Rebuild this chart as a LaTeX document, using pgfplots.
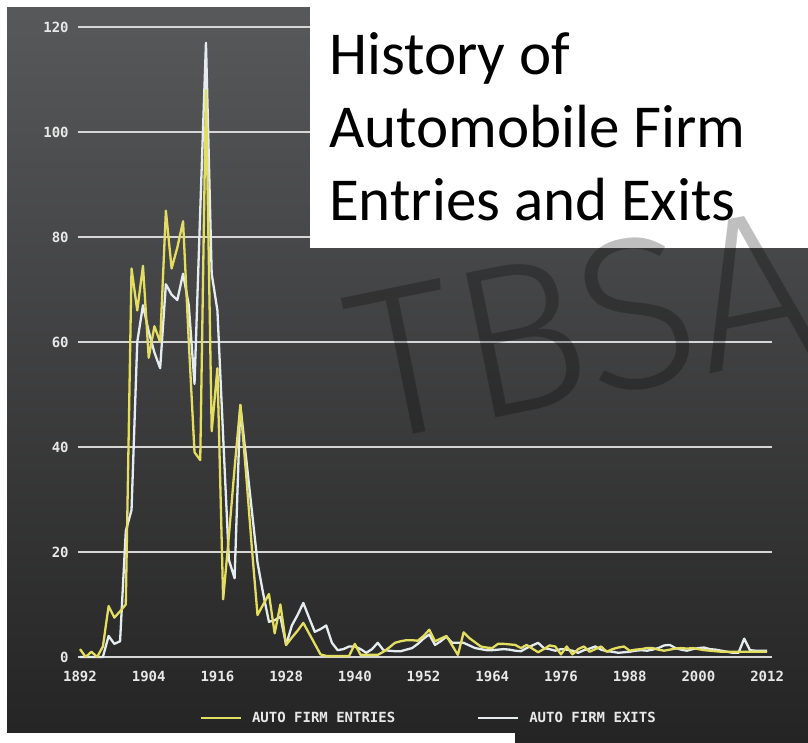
\documentclass[border=0pt]{standalone}
\usepackage{pgfplots}
\pgfplotsset{compat=1.18}
\usepackage{pgfplotstable}
\usepackage{fontspec}
\setmonofont{DejaVu Sans Mono}
\newfontfamily\titlefont{Carlito}
\newfontfamily\wmfont{Fira Sans Light}
\definecolor{ylw}{RGB}{228,222,96}
\definecolor{wht}{RGB}{228,236,240}
\definecolor{gridc}{RGB}{214,214,214}
\definecolor{labc}{RGB}{232,232,232}
\definecolor{bgtop}{RGB}{88,89,91}
\definecolor{bgbot}{RGB}{36,36,36}

\pgfplotstableread{
year val
1892 1.5
1893 0
1894 1
1895 0
1896 2
1897 9.7
1898 7.5
1899 8.7
1900 10
1901 74
1902 66
1903 74.5
1904 57
1905 63
1906 60
1907 85
1908 74
1909 78
1910 83
1911 60
1912 39
1913 37.5
1914 108
1915 43
1916 55
1917 11
1918 23
1919 36
1920 48
1921 35
1922 21
1923 8
1924 10
1925 12
1926 4.5
1927 10
1928 2.3
1929 3.7
1930 5
1931 6.5
1932 4.5
1933 2.5
1934 0.5
1935 0.2
1936 0.2
1937 0.2
1938 0.2
1939 0.2
1940 2.5
1941 0.4
1942 0.4
1943 0.4
1944 0.4
1945 1
1946 1.8
1947 2.7
1948 3
1949 3.2
1950 3.2
1951 3.1
1952 4
1953 5.2
1954 3
1955 3.5
1956 4
1957 2.2
1958 0.4
1959 4.7
1960 3.6
1961 2.8
1962 2
1963 1.8
1964 1.7
1965 2.5
1966 2.5
1967 2.4
1968 2.3
1969 1.7
1970 2.3
1971 1.6
1972 0.9
1973 1.5
1974 2.2
1975 2
1976 0.5
1977 2
1978 0.5
1979 1.5
1980 2
1981 1
1982 1.5
1983 2
1984 1
1985 1.5
1986 1.8
1987 2
1988 1.2
1989 1.4
1990 1.5
1991 1.7
1992 1.7
1993 1.4
1994 1.2
1995 1.4
1996 1.6
1997 1.7
1998 1.6
1999 1.7
2000 1.5
2001 1.3
2002 1.2
2003 1.1
2004 1
2005 1
2006 1
2007 1
2008 1
2009 1
2010 1
2011 1
2012 1
}\entries

\pgfplotstableread{
year val
1892 0
1893 0
1894 0
1895 0
1896 0
1897 4
1898 2.5
1899 3
1900 24
1901 28
1902 60
1903 67
1904 62
1905 58
1906 55
1907 71
1908 69
1909 68
1910 73
1911 67
1912 52
1913 85
1914 117
1915 73
1916 66
1917 42
1918 18.5
1919 15
1920 48
1921 38
1922 28
1923 18
1924 12
1925 6.7
1926 7
1927 7.7
1928 2.3
1929 6
1930 8
1931 10.3
1932 7.5
1933 4.8
1934 5.3
1935 6
1936 2.7
1937 1.3
1938 1.5
1939 2
1940 2
1941 1.5
1942 0.8
1943 1.5
1944 2.7
1945 1.3
1946 1.2
1947 1.1
1948 1.1
1949 1.4
1950 1.7
1951 2.5
1952 3.5
1953 4.3
1954 2.3
1955 3
1956 3.9
1957 2.7
1958 2.7
1959 2.7
1960 2.2
1961 1.7
1962 1.5
1963 1.3
1964 1.3
1965 1.4
1966 1.5
1967 1.4
1968 1.2
1969 1.1
1970 1.7
1971 2.2
1972 2.7
1973 1.7
1974 1.5
1975 1.2
1976 1.5
1977 1.4
1978 1.2
1979 0.8
1980 1.3
1981 1.6
1982 2
1983 1.4
1984 1.1
1985 1
1986 0.8
1987 0.9
1988 1
1989 1.2
1990 1.3
1991 1.2
1992 1.4
1993 1.7
1994 2.2
1995 2.3
1996 1.7
1997 1.4
1998 1.2
1999 1.5
2000 1.7
2001 1.8
2002 1.5
2003 1.4
2004 1.2
2005 1
2006 0.8
2007 0.8
2008 3.5
2009 1.3
2010 1.2
2011 1.2
2012 1.2
}\exits

\begin{document}
\begin{tikzpicture}
\path[use as bounding box] (0pt,0pt) rectangle (808pt,743pt);
\shade[top color=bgtop, bottom color=bgbot] (0pt,0pt) rectangle (808pt,743pt);
\fill[white] (0pt,736pt) rectangle (808pt,743pt);
\fill[white] (0pt,0pt) rectangle (7pt,743pt);
\fill[white] (0pt,0pt) rectangle (515pt,10pt);
\begin{axis}[
  at={(77.7pt,86pt)}, anchor=south west,
  scale only axis, width=694pt, height=630pt,
  xmin=1891.6, xmax=2012.8, ymin=0, ymax=120,
  clip=false,
  axis line style={draw=none},
  major tick length=0pt,
  xtick={1892,1904,...,2012},
  ytick={0,20,...,120},
  ymajorgrids,
  grid style={line width=1.8pt, color=gridc},
  ticklabel style={font=\ttfamily\bfseries\fontsize{14}{14}\selectfont, text=labc},
  xticklabel style={yshift=-11pt},
  yticklabel style={xshift=-5.5pt},
  /pgf/number format/1000 sep={},
  /pgf/number format/assume math mode=true,
  legend style={at={(0.506,-0.097)}, anchor=center, draw=none, fill=none,
    text=labc, font=\ttfamily\bfseries\fontsize{14}{14}\selectfont,
    legend columns=2,
    /tikz/every even column/.append style={column sep=80pt}},
  legend image code/.code={\draw[#1] (0pt,0pt) -- (40pt,0pt); \path (48pt,0pt);},
]
\addplot[wht, line width=2.3pt, line join=round, forget plot] table[x=year, y=val] {\exits};
\addplot[ylw, line width=2.3pt, line join=round, forget plot] table[x=year, y=val] {\entries};
\addlegendimage{ylw, line width=2pt}
\addlegendentry{AUTO FIRM ENTRIES}
\addlegendimage{wht, line width=2pt}
\addlegendentry{AUTO FIRM EXITS}
\end{axis}
\fill[white] (310pt,495pt) rectangle (808pt,743pt);
\node[anchor=base west, inner sep=0pt, font=\titlefont\fontsize{61}{73}\selectfont] at (329pt,668pt) {History of};
\node[anchor=base west, inner sep=0pt, font=\titlefont\fontsize{61}{73}\selectfont] at (329pt,595pt) {Automobile Firm};
\node[anchor=base west, inner sep=0pt, font=\titlefont\fontsize{61}{73}\selectfont] at (329pt,522pt) {Entries and Exits};
\node[rotate=11.5, inner sep=0pt, font=\wmfont\fontsize{215}{215}\selectfont, text=black, text opacity=0.25] at (582pt,418pt) {TBSA};
\end{tikzpicture}
\end{document}
